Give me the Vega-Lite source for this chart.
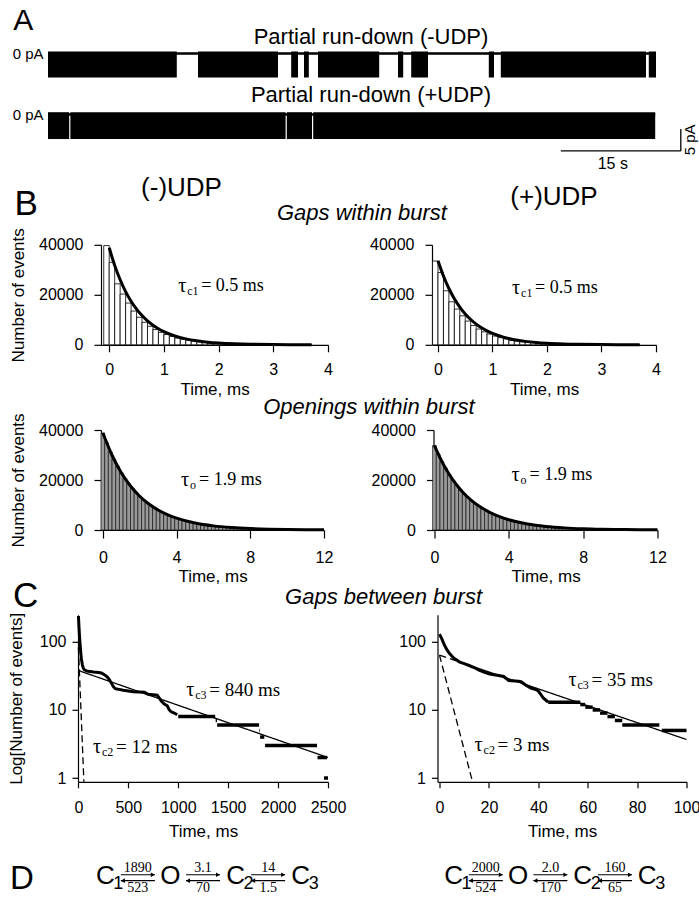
{
"$schema":"https://vega.github.io/schema/vega-lite/v6.json",
"background":"white",
"padding":{"left":7,"top":5.5,"right":0,"bottom":0},
"config":{
 "font":"Liberation Sans",
 "view":{"stroke":null},
 "axis":{"grid":false,"domainColor":"black","domainWidth":1.2,"tickColor":"black","tickWidth":1.2,"tickSize":7,"labelColor":"black","labelFont":"Liberation Sans","labelFontSize":16,"titleColor":"black","titleFont":"Liberation Sans","titleFontSize":17,"titleFontWeight":"normal","labelPadding":6,"titlePadding":6,"labelOverlap":false,"labelFlush":false},
 "title":{"color":"black","fontWeight":"normal","font":"Liberation Sans"},
 "text":{"color":"black"},
 "rule":{"color":"black"},
 "line":{"color":"black"}
},
"datasets":{
 "traceMinus":[{"t0":0,"t1":16.1},{"t0":18.75,"t1":28.75},{"t0":30.4,"t1":31.25},{"t0":32.0,"t1":32.6},{"t0":33.75,"t1":41.4},{"t0":43.75,"t1":44.4},{"t0":45.4,"t1":47.5},{"t0":55.1,"t1":55.75},{"t0":56.6,"t1":74.75},{"t0":75.1,"t1":76.0}],
 "tracePlus":[{"t0":0,"t1":2.65},{"t0":2.8,"t1":29.7},{"t0":29.85,"t1":33.0},{"t0":33.15,"t1":75.9}],
 "gapsHist":[
  {"t0":-0.1,"t1":0,"minus":39700,"plus":33500},{"t0":0,"t1":0.1,"minus":33000,"plus":28900},{"t0":0.1,"t1":0.2,"minus":24400,"plus":21600},{"t0":0.2,"t1":0.3,"minus":20300,"plus":17200},{"t0":0.3,"t1":0.4,"minus":16700,"plus":14300},{"t0":0.4,"t1":0.5,"minus":13500,"plus":11600},{"t0":0.5,"t1":0.6,"minus":11000,"plus":9500},{"t0":0.6,"t1":0.7,"minus":9000,"plus":7700},{"t0":0.7,"t1":0.8,"minus":7400,"plus":6300},{"t0":0.8,"t1":0.9,"minus":6100,"plus":5200},{"t0":0.9,"t1":1.0,"minus":5000,"plus":4300},{"t0":1.0,"t1":1.1,"minus":4100,"plus":3500},{"t0":1.1,"t1":1.2,"minus":3350,"plus":2850},{"t0":1.2,"t1":1.3,"minus":2750,"plus":2350},{"t0":1.3,"t1":1.4,"minus":2250,"plus":1900},{"t0":1.4,"t1":1.5,"minus":1850,"plus":1560},{"t0":1.5,"t1":1.6,"minus":1500,"plus":1280},{"t0":1.6,"t1":1.7,"minus":1230,"plus":1050},{"t0":1.7,"t1":1.8,"minus":1000,"plus":860},{"t0":1.8,"t1":1.9,"minus":820,"plus":700},{"t0":1.9,"t1":2.0,"minus":670,"plus":570},{"t0":2.0,"t1":2.1,"minus":550,"plus":470},{"t0":2.1,"t1":2.2,"minus":450,"plus":385},{"t0":2.2,"t1":2.3,"minus":370,"plus":315},{"t0":2.3,"t1":2.4,"minus":300,"plus":260},{"t0":2.4,"t1":2.5,"minus":250,"plus":210},{"t0":2.5,"t1":2.6,"minus":200,"plus":170},{"t0":2.6,"t1":2.7,"minus":165,"plus":140},{"t0":2.7,"t1":2.8,"minus":135,"plus":115},{"t0":2.8,"t1":2.9,"minus":110,"plus":95},{"t0":2.9,"t1":3.0,"minus":90,"plus":78},{"t0":3.0,"t1":3.1,"minus":75,"plus":64},{"t0":3.1,"t1":3.2,"minus":60,"plus":52},{"t0":3.2,"t1":3.3,"minus":50,"plus":43},{"t0":3.3,"t1":3.4,"minus":40,"plus":35},{"t0":3.4,"t1":3.5,"minus":33,"plus":29},{"t0":3.5,"t1":3.6,"minus":27,"plus":24},{"t0":3.6,"t1":3.7,"minus":22,"plus":20}],
 "gapsFit":[{"t":0,"minus":38800,"plus":33600},{"t":0.1,"minus":31770,"plus":27500},{"t":0.2,"minus":26010,"plus":22520},{"t":0.3,"minus":21290,"plus":18440},{"t":0.4,"minus":17440,"plus":15100},{"t":0.5,"minus":14270,"plus":12360},{"t":0.6,"minus":11690,"plus":10120},{"t":0.7,"minus":9570,"plus":8290},{"t":0.8,"minus":7840,"plus":6790},{"t":0.9,"minus":6410,"plus":5560},{"t":1.0,"minus":5250,"plus":4550},{"t":1.2,"minus":3520,"plus":3050},{"t":1.4,"minus":2360,"plus":2040},{"t":1.6,"minus":1580,"plus":1370},{"t":1.8,"minus":1060,"plus":920},{"t":2.0,"minus":710,"plus":615},{"t":2.3,"minus":390,"plus":337},{"t":2.6,"minus":215,"plus":185},{"t":3.0,"minus":96,"plus":83},{"t":3.3,"minus":53,"plus":46},{"t":3.7,"minus":23,"plus":20}],
 "openHist":[
  {"t0":-0.1,"t1":0.1,"minus":38800,"plus":33800},{"t0":0.1,"t1":0.3,"minus":34900,"plus":30400},{"t0":0.3,"t1":0.5,"minus":31400,"plus":27350},{"t0":0.5,"t1":0.7,"minus":28300,"plus":24650},{"t0":0.7,"t1":0.9,"minus":25400,"plus":22100},{"t0":0.9,"t1":1.1,"minus":22900,"plus":19950},{"t0":1.1,"t1":1.3,"minus":20600,"plus":17950},{"t0":1.3,"t1":1.5,"minus":18500,"plus":16100},{"t0":1.5,"t1":1.7,"minus":16700,"plus":14550},{"t0":1.7,"t1":1.9,"minus":15000,"plus":13050},
  {"t0":1.9,"t1":2.1,"minus":13500,"plus":11750},{"t0":2.1,"t1":2.3,"minus":12200,"plus":10600},{"t0":2.3,"t1":2.5,"minus":10900,"plus":9500},{"t0":2.5,"t1":2.7,"minus":9840,"plus":8570},{"t0":2.7,"t1":2.9,"minus":8860,"plus":7720},{"t0":2.9,"t1":3.1,"minus":7970,"plus":6940},{"t0":3.1,"t1":3.3,"minus":7170,"plus":6250},{"t0":3.3,"t1":3.5,"minus":6450,"plus":5620},{"t0":3.5,"t1":3.7,"minus":5810,"plus":5060},{"t0":3.7,"t1":3.9,"minus":5230,"plus":4560},
  {"t0":3.9,"t1":4.1,"minus":4700,"plus":4090},{"t0":4.1,"t1":4.3,"minus":4230,"plus":3680},{"t0":4.3,"t1":4.5,"minus":3810,"plus":3320},{"t0":4.5,"t1":4.7,"minus":3430,"plus":2990},{"t0":4.7,"t1":4.9,"minus":3080,"plus":2680},{"t0":4.9,"t1":5.1,"minus":2780,"plus":2420},{"t0":5.1,"t1":5.3,"minus":2500,"plus":2180},{"t0":5.3,"t1":5.5,"minus":2250,"plus":1960},{"t0":5.5,"t1":5.7,"minus":2020,"plus":1760},{"t0":5.7,"t1":5.9,"minus":1820,"plus":1590},
  {"t0":5.9,"t1":6.1,"minus":1640,"plus":1430},{"t0":6.1,"t1":6.3,"minus":1470,"plus":1280},{"t0":6.3,"t1":6.5,"minus":1330,"plus":1160},{"t0":6.5,"t1":6.7,"minus":1190,"plus":1040},{"t0":6.7,"t1":6.9,"minus":1070,"plus":930},{"t0":6.9,"t1":7.1,"minus":965,"plus":840},{"t0":7.1,"t1":7.3,"minus":870,"plus":760},{"t0":7.3,"t1":7.5,"minus":780,"plus":680},{"t0":7.5,"t1":7.7,"minus":700,"plus":610},{"t0":7.7,"t1":7.9,"minus":630,"plus":550},
  {"t0":7.9,"t1":8.1,"minus":570,"plus":500},{"t0":8.1,"t1":8.3,"minus":515,"plus":450},{"t0":8.3,"t1":8.5,"minus":460,"plus":400},{"t0":8.5,"t1":8.7,"minus":415,"plus":360},{"t0":8.7,"t1":8.9,"minus":375,"plus":327},{"t0":8.9,"t1":9.1,"minus":335,"plus":292},{"t0":9.1,"t1":9.3,"minus":300,"plus":261},{"t0":9.3,"t1":9.5,"minus":272,"plus":237},{"t0":9.5,"t1":9.7,"minus":245,"plus":213},{"t0":9.7,"t1":9.9,"minus":220,"plus":192},
  {"t0":9.9,"t1":10.1,"minus":198,"plus":172},{"t0":10.1,"t1":10.3,"minus":178,"plus":155},{"t0":10.3,"t1":10.5,"minus":160,"plus":139},{"t0":10.5,"t1":10.7,"minus":144,"plus":125},{"t0":10.7,"t1":10.9,"minus":130,"plus":113},{"t0":10.9,"t1":11.1,"minus":117,"plus":102},{"t0":11.1,"t1":11.3,"minus":105,"plus":91},{"t0":11.3,"t1":11.5,"minus":95,"plus":83},{"t0":11.5,"t1":11.7,"minus":85,"plus":74},{"t0":11.7,"t1":11.9,"minus":77,"plus":67}],
 "openFit":[{"t":0,"minus":38800,"plus":33800},{"t":0.5,"minus":29900,"plus":26000},{"t":1,"minus":22900,"plus":19950},{"t":1.5,"minus":17600,"plus":15330},{"t":2,"minus":13500,"plus":11760},{"t":2.5,"minus":10400,"plus":9060},{"t":3,"minus":8000,"plus":6970},{"t":3.5,"minus":6140,"plus":5350},{"t":4,"minus":4730,"plus":4120},{"t":5,"minus":2790,"plus":2430},{"t":6,"minus":1650,"plus":1440},{"t":7,"minus":975,"plus":850},{"t":8,"minus":575,"plus":500},{"t":9,"minus":340,"plus":296},{"t":10,"minus":200,"plus":174},{"t":11,"minus":120,"plus":104},{"t":12,"minus":70,"plus":61}],
 "betweenMinus":[{"t":0,"n":240},{"t":3,"n":200},{"t":6,"n":165},{"t":10,"n":130},{"t":15,"n":100},{"t":20,"n":80},{"t":25,"n":66},{"t":30,"n":56},{"t":40,"n":46},{"t":50,"n":41},{"t":60,"n":39},{"t":80,"n":37.5},{"t":100,"n":37},{"t":150,"n":36},{"t":200,"n":35.5},{"t":230,"n":35},{"t":260,"n":33},{"t":290,"n":30.5},{"t":310,"n":28},{"t":330,"n":25},{"t":350,"n":22},{"t":370,"n":20.5},{"t":450,"n":19.5},{"t":550,"n":18.5},{"t":660,"n":18.2},{"t":700,"n":17},{"t":790,"n":16.5},{"t":810,"n":15},{"t":830,"n":13.5},{"t":860,"n":12.2},{"t":890,"n":11.5},{"t":910,"n":10},{"t":930,"n":9.4},{"t":960,"n":9},{"t":990,"n":8.5}],
 "betweenMinusSteps":[{"t0":1000,"t1":1370,"n":8},{"t0":1375,"t1":1388,"n":7},{"t0":1390,"t1":1810,"n":6},{"t0":1812,"t1":1818,"n":5},{"t0":1820,"t1":1862,"n":4},{"t0":1870,"t1":2390,"n":3},{"t0":2395,"t1":2490,"n":2},{"t0":2460,"t1":2500,"n":1}],
 "betweenMinusFit":[{"comp":"slow","t":0,"n":38},{"comp":"slow","t":2500,"n":2.0},{"comp":"fast","t":0,"n":83},{"comp":"fast","t":55,"n":0.88}],
 "betweenPlus":[{"t":0,"n":130},{"t":1,"n":110},{"t":2,"n":90},{"t":3,"n":77},{"t":4,"n":68},{"t":5,"n":62},{"t":6,"n":57},{"t":7,"n":54},{"t":8,"n":51},{"t":10,"n":48},{"t":12,"n":45},{"t":14,"n":42},{"t":16,"n":38.5},{"t":18,"n":36},{"t":20,"n":34},{"t":22,"n":33},{"t":24,"n":32},{"t":26,"n":31},{"t":27,"n":29},{"t":28,"n":27},{"t":32,"n":26.5},{"t":33,"n":26},{"t":35,"n":23},{"t":37,"n":21},{"t":39,"n":20},{"t":40,"n":19},{"t":41,"n":17},{"t":42,"n":15},{"t":43,"n":14},{"t":44,"n":13}],
 "betweenPlusSteps":[{"t0":44,"t1":57,"n":13},{"t0":57,"t1":59,"n":12},{"t0":59,"t1":62,"n":11},{"t0":62,"t1":65,"n":10},{"t0":65,"t1":68,"n":9},{"t0":68,"t1":71,"n":8},{"t0":71,"t1":74,"n":7},{"t0":74,"t1":89,"n":6},{"t0":90,"t1":100,"n":5}],
 "betweenPlusFit":[{"comp":"slow","t":9,"n":49.5},{"comp":"slow","t":100,"n":3.68},{"comp":"slow-extrapolated","t":0,"n":64},{"comp":"slow-extrapolated","t":9,"n":49.5},{"comp":"fast","t":0,"n":64},{"comp":"fast","t":13.3,"n":0.9}]
},
"columns":1,
"align":"none",
"spacing":1.3,
"concat":[
 {
  "title":{"text":"A","anchor":"start","frame":"bounds","fontSize":30,"dx":1,"offset":-10},
  "spacing":2.5,
  "vconcat":[
   {
    "title":{"text":"Partial run-down (-UDP)","frame":"group","anchor":"middle","fontSize":22,"dx":-8.5,"offset":-2},
    "width":557,"height":34,
    "layer":[
     {"data":{"values":[{"t0":0,"t1":76}]},"mark":{"type":"rule","strokeWidth":2.5},"encoding":{"x":{"field":"t0","type":"quantitative","scale":{"domain":[0,76.25],"range":[-53,557],"nice":false},"axis":null},"x2":{"field":"t1"},"y":{"datum":0,"type":"quantitative","scale":{"domain":[-7,1.5],"nice":false},"axis":{"values":[0],"labelExpr":"'0 pA'","domain":false,"ticks":false,"tickSize":0,"offset":49,"labelPadding":9,"labelFontSize":15,"title":null}}}},
     {"data":{"name":"traceMinus"},"mark":{"type":"rect","color":"black"},"encoding":{"x":{"field":"t0","type":"quantitative"},"x2":{"field":"t1"},"y":{"datum":0.5},"y2":{"datum":-6}}}
    ]
   },
   {
    "title":{"text":"Partial run-down (+UDP)","frame":"group","anchor":"middle","fontSize":22,"dx":-8.5,"offset":0},
    "width":557,"height":44,
    "layer":[
     {"data":{"values":[{"t0":0,"t1":75.9}]},"mark":{"type":"rule","strokeWidth":2.5},"encoding":{"x":{"field":"t0","type":"quantitative","scale":{"domain":[0,76.25],"range":[-53,557],"nice":false},"axis":null},"x2":{"field":"t1"},"y":{"datum":0,"type":"quantitative","scale":{"domain":[-9,1],"nice":false},"axis":{"values":[0],"labelExpr":"'0 pA'","domain":false,"ticks":false,"tickSize":0,"offset":49,"labelPadding":9,"labelFontSize":15,"title":null}}}},
     {"data":{"name":"tracePlus"},"mark":{"type":"rect","color":"black"},"encoding":{"x":{"field":"t0","type":"quantitative"},"x2":{"field":"t1"},"y":{"datum":0.5},"y2":{"datum":-5.6}}},
     {"data":{"values":[{"t0":64.1,"t1":79.1,"c0":-8.3,"c1":-8.3},{"t0":79.1,"t1":79.1,"c0":-3.3,"c1":-8.3}]},"mark":{"type":"rule","strokeWidth":1.3},"encoding":{"x":{"field":"t0","type":"quantitative"},"x2":{"field":"t1"},"y":{"field":"c0","type":"quantitative"},"y2":{"field":"c1"}}},
     {"data":{"values":[{"label":"15 s"}]},"mark":{"type":"text","fontSize":16,"baseline":"middle"},"encoding":{"x":{"datum":70.6},"y":{"datum":-11.3},"text":{"field":"label"}}},
     {"data":{"values":[{"label":"5 pA"}]},"mark":{"type":"text","fontSize":15,"baseline":"middle","angle":270},"encoding":{"x":{"datum":80.3},"y":{"datum":-5.8},"text":{"field":"label"}}}
    ]
   }
  ]
 },
 {
  "columns":1,
  "align":"none",
  "spacing":17.5,
  "concat":[
   {
    "columns":1,
    "align":"none",
    "spacing":-6,
    "concat":[
     {
      "title":{"text":"B","anchor":"start","frame":"bounds","fontSize":35,"dx":5,"offset":-47},
      "spacing":-2.8,
      "vconcat":[
       {
        "title":{"text":"Gaps within burst","anchor":"middle","frame":"bounds","fontStyle":"italic","fontSize":22,"dx":27,"offset":-50},
        "spacing":36,
        "hconcat":[
         {
          "title":{"text":"(-)UDP","frame":"group","anchor":"middle","fontSize":26,"dx":-33,"offset":27},
          "width":227,"height":100,
          "layer":[
           {"data":{"name":"gapsHist"},"mark":{"type":"rect","fill":"white","stroke":"black","strokeWidth":0.8},"encoding":{"x":{"field":"t0","type":"quantitative","scale":{"domain":[-0.15,4],"nice":false},"axis":{"values":[0,1,2,3,4],"format":"d","title":"Time, ms","labelPadding":9.5,"titlePadding":4.5,"labelOverlap":false}},"x2":{"field":"t1"},"y":{"field":"minus","type":"quantitative","scale":{"domain":[0,40000],"nice":false},"axis":{"values":[0,10000,20000,30000,40000],"format":"d","title":"Number of events","titlePadding":11,"labelPadding":11,"labelOverlap":false}},"y2":{"datum":0}}},
           {"data":{"name":"gapsFit"},"mark":{"type":"line","strokeWidth":3,"interpolate":"monotone"},"encoding":{"x":{"field":"t","type":"quantitative"},"y":{"field":"minus","type":"quantitative"}}},
           {"data":{"values":[{"sym":"τ","sub":"c1","val":"= 0.5 ms"}]},"encoding":{"x":{"datum":1.26},"y":{"datum":23600}},"layer":[
             {"mark":{"type":"text","font":"Liberation Serif","fontSize":20,"align":"left","baseline":"middle"},"encoding":{"text":{"field":"sym"}}},
             {"mark":{"type":"text","font":"Liberation Serif","fontSize":12,"align":"left","baseline":"middle","dx":9,"dy":5},"encoding":{"text":{"field":"sub"}}},
             {"mark":{"type":"text","font":"Liberation Serif","fontSize":18,"align":"left","baseline":"middle","dx":23},"encoding":{"text":{"field":"val"}}}]}
          ]
         },
         {
          "title":{"text":"(+)UDP","frame":"group","anchor":"middle","fontSize":26,"dx":10,"offset":27},
          "width":224,"height":100,
          "layer":[
           {"data":{"name":"gapsHist"},"mark":{"type":"rect","fill":"white","stroke":"black","strokeWidth":0.8},"encoding":{"x":{"field":"t0","type":"quantitative","scale":{"domain":[-0.11,4],"nice":false},"axis":{"values":[0,1,2,3,4],"format":"d","title":"Time, ms","labelPadding":9.5,"titlePadding":4.5,"labelOverlap":false}},"x2":{"field":"t1"},"y":{"field":"plus","type":"quantitative","scale":{"domain":[0,40000],"nice":false},"axis":{"values":[0,10000,20000,30000,40000],"format":"d","title":null,"labelPadding":11,"labelOverlap":false}},"y2":{"datum":0}}},
           {"data":{"name":"gapsFit"},"mark":{"type":"line","strokeWidth":3,"interpolate":"monotone"},"encoding":{"x":{"field":"t","type":"quantitative"},"y":{"field":"plus","type":"quantitative"}}},
           {"data":{"values":[{"sym":"τ","sub":"c1","val":"= 0.5 ms"}]},"encoding":{"x":{"datum":1.36},"y":{"datum":22800}},"layer":[
             {"mark":{"type":"text","font":"Liberation Serif","fontSize":20,"align":"left","baseline":"middle"},"encoding":{"text":{"field":"sym"}}},
             {"mark":{"type":"text","font":"Liberation Serif","fontSize":12,"align":"left","baseline":"middle","dx":9,"dy":5},"encoding":{"text":{"field":"sub"}}},
             {"mark":{"type":"text","font":"Liberation Serif","fontSize":18,"align":"left","baseline":"middle","dx":23},"encoding":{"text":{"field":"val"}}}]}
          ]
         }
        ]
       },
       {
        "title":{"text":"Openings within burst","anchor":"middle","frame":"bounds","fontStyle":"italic","fontSize":22,"dx":31,"offset":-6},
        "spacing":37.5,
        "hconcat":[
         {
          "width":223,"height":100,
          "layer":[
           {"data":{"name":"openHist"},"mark":{"type":"rect","fill":"#9a9a9a","stroke":"black","strokeWidth":0.6},"encoding":{"x":{"field":"t0","type":"quantitative","scale":{"domain":[-0.1,12],"nice":false},"axis":{"values":[0,2,4,6,8,10,12],"format":"d","title":"Time, ms","tickSize":8,"labelPadding":11.5,"titlePadding":2.5,"labelOverlap":false}},"x2":{"field":"t1"},"y":{"field":"minus","type":"quantitative","scale":{"domain":[0,40000],"nice":false},"axis":{"values":[0,10000,20000,30000,40000],"format":"d","title":"Number of events","titlePadding":11,"labelPadding":11,"labelOverlap":false}},"y2":{"datum":0}}},
           {"data":{"name":"openFit"},"mark":{"type":"line","strokeWidth":3,"interpolate":"monotone"},"encoding":{"x":{"field":"t","type":"quantitative"},"y":{"field":"minus","type":"quantitative"}}},
           {"data":{"values":[{"sym":"τ","sub":"o","val":"= 1.9 ms"}]},"encoding":{"x":{"datum":4.24},"y":{"datum":20000}},"layer":[
             {"mark":{"type":"text","font":"Liberation Serif","fontSize":20,"align":"left","baseline":"middle"},"encoding":{"text":{"field":"sym"}}},
             {"mark":{"type":"text","font":"Liberation Serif","fontSize":12,"align":"left","baseline":"middle","dx":9,"dy":5},"encoding":{"text":{"field":"sub"}}},
             {"mark":{"type":"text","font":"Liberation Serif","fontSize":18,"align":"left","baseline":"middle","dx":18},"encoding":{"text":{"field":"val"}}}]}
          ]
         },
         {
          "width":224,"height":100,
          "layer":[
           {"data":{"name":"openHist"},"mark":{"type":"rect","fill":"#9a9a9a","stroke":"black","strokeWidth":0.6},"encoding":{"x":{"field":"t0","type":"quantitative","scale":{"domain":[-0.05,12],"nice":false},"axis":{"values":[0,2,4,6,8,10,12],"format":"d","title":"Time, ms","tickSize":8,"labelPadding":11.5,"titlePadding":2.5,"labelOverlap":false}},"x2":{"field":"t1"},"y":{"field":"plus","type":"quantitative","scale":{"domain":[0,40000],"nice":false},"axis":{"values":[0,10000,20000,30000,40000],"format":"d","title":null,"labelPadding":11,"labelOverlap":false}},"y2":{"datum":0}}},
           {"data":{"name":"openFit"},"mark":{"type":"line","strokeWidth":3,"interpolate":"monotone"},"encoding":{"x":{"field":"t","type":"quantitative"},"y":{"field":"plus","type":"quantitative"}}},
           {"data":{"values":[{"sym":"τ","sub":"o","val":"= 1.9 ms"}]},"encoding":{"x":{"datum":4.15},"y":{"datum":22000}},"layer":[
             {"mark":{"type":"text","font":"Liberation Serif","fontSize":20,"align":"left","baseline":"middle"},"encoding":{"text":{"field":"sym"}}},
             {"mark":{"type":"text","font":"Liberation Serif","fontSize":12,"align":"left","baseline":"middle","dx":9,"dy":5},"encoding":{"text":{"field":"sub"}}},
             {"mark":{"type":"text","font":"Liberation Serif","fontSize":18,"align":"left","baseline":"middle","dx":18},"encoding":{"text":{"field":"val"}}}]}
          ]
         }
        ]
       }
      ]
     },
     {
      "title":{"text":"Gaps between burst","anchor":"middle","frame":"bounds","fontStyle":"italic","fontSize":22,"dx":30,"offset":-30},
      "spacing":47.5,
      "hconcat":[
       {
        "title":{"text":"C","anchor":"start","frame":"group","fontSize":35,"dx":-88,"offset":-4},
        "width":227,"height":167,
        "layer":[
         {"data":{"name":"betweenMinusFit"},"mark":{"type":"line","strokeWidth":1.3},"encoding":{"x":{"field":"t","type":"quantitative","scale":{"domain":[-4,2500],"range":[-23,227],"nice":false},"axis":{"values":[0,500,1000,1500,2000,2500],"format":"d","title":"Time, ms","tickSize":6,"labelPadding":11.5,"titlePadding":8.5,"labelOverlap":false}},"y":{"field":"n","type":"quantitative","scale":{"type":"log","domain":[0.88,250],"nice":false},"axis":{"values":[1,10,100],"format":"d","title":"Log[Number of events]","offset":23,"tickSize":6,"labelPadding":6,"titlePadding":14,"labelOverlap":false}},"strokeDash":{"field":"comp","type":"nominal","scale":{"domain":["slow","fast","slow-extrapolated"],"range":[[1,0],[7,4],[7,4]]},"legend":null}}},
         {"data":{"name":"betweenMinus"},"mark":{"type":"line","strokeWidth":3},"encoding":{"x":{"field":"t","type":"quantitative"},"y":{"field":"n","type":"quantitative"}}},
         {"data":{"name":"betweenMinusSteps"},"mark":{"type":"rule","strokeWidth":3.5},"encoding":{"x":{"field":"t0","type":"quantitative"},"x2":{"field":"t1"},"y":{"field":"n","type":"quantitative"}}},
         {"data":{"values":[{"sym":"τ","sub":"c3","val":"= 840 ms"}]},"encoding":{"x":{"datum":1080},"y":{"datum":19.8}},"layer":[
           {"mark":{"type":"text","font":"Liberation Serif","fontSize":20,"align":"left","baseline":"middle"},"encoding":{"text":{"field":"sym"}}},
           {"mark":{"type":"text","font":"Liberation Serif","fontSize":12,"align":"left","baseline":"middle","dx":9,"dy":5},"encoding":{"text":{"field":"sub"}}},
           {"mark":{"type":"text","font":"Liberation Serif","fontSize":19,"align":"left","baseline":"middle","dx":23},"encoding":{"text":{"field":"val"}}}]},
         {"data":{"values":[{"sym":"τ","sub":"c2","val":"= 12 ms"}]},"encoding":{"x":{"datum":146},"y":{"datum":2.87}},"layer":[
           {"mark":{"type":"text","font":"Liberation Serif","fontSize":20,"align":"left","baseline":"middle"},"encoding":{"text":{"field":"sym"}}},
           {"mark":{"type":"text","font":"Liberation Serif","fontSize":12,"align":"left","baseline":"middle","dx":9,"dy":5},"encoding":{"text":{"field":"sub"}}},
           {"mark":{"type":"text","font":"Liberation Serif","fontSize":19,"align":"left","baseline":"middle","dx":23},"encoding":{"text":{"field":"val"}}}]}
        ]
       },
       {
        "width":249,"height":167,
        "layer":[
         {"data":{"name":"betweenPlusFit"},"mark":{"type":"line","strokeWidth":1.3},"encoding":{"x":{"field":"t","type":"quantitative","scale":{"domain":[-0.8,100],"nice":false},"axis":{"values":[0,20,40,60,80,100],"format":"d","title":"Time, ms","tickSize":6,"labelPadding":11.5,"titlePadding":8.5,"labelOverlap":false}},"y":{"field":"n","type":"quantitative","scale":{"type":"log","domain":[0.88,250],"nice":false},"axis":{"values":[1,10,100],"format":"d","title":null,"tickSize":6,"labelPadding":6,"labelOverlap":false}},"strokeDash":{"field":"comp","type":"nominal","scale":{"domain":["slow","fast","slow-extrapolated"],"range":[[1,0],[7,4],[7,4]]},"legend":null}}},
         {"data":{"name":"betweenPlus"},"mark":{"type":"line","strokeWidth":3},"encoding":{"x":{"field":"t","type":"quantitative"},"y":{"field":"n","type":"quantitative"}}},
         {"data":{"name":"betweenPlusSteps"},"mark":{"type":"rule","strokeWidth":3.5},"encoding":{"x":{"field":"t0","type":"quantitative"},"x2":{"field":"t1"},"y":{"field":"n","type":"quantitative"}}},
         {"data":{"values":[{"sym":"τ","sub":"c3","val":"= 35 ms"}]},"encoding":{"x":{"datum":52.2},"y":{"datum":27.7}},"layer":[
           {"mark":{"type":"text","font":"Liberation Serif","fontSize":20,"align":"left","baseline":"middle"},"encoding":{"text":{"field":"sym"}}},
           {"mark":{"type":"text","font":"Liberation Serif","fontSize":12,"align":"left","baseline":"middle","dx":9,"dy":5},"encoding":{"text":{"field":"sub"}}},
           {"mark":{"type":"text","font":"Liberation Serif","fontSize":19,"align":"left","baseline":"middle","dx":23},"encoding":{"text":{"field":"val"}}}]},
         {"data":{"values":[{"sym":"τ","sub":"c2","val":"= 3 ms"}]},"encoding":{"x":{"datum":14.2},"y":{"datum":3.07}},"layer":[
           {"mark":{"type":"text","font":"Liberation Serif","fontSize":20,"align":"left","baseline":"middle"},"encoding":{"text":{"field":"sym"}}},
           {"mark":{"type":"text","font":"Liberation Serif","fontSize":12,"align":"left","baseline":"middle","dx":9,"dy":5},"encoding":{"text":{"field":"sub"}}},
           {"mark":{"type":"text","font":"Liberation Serif","fontSize":19,"align":"left","baseline":"middle","dx":23},"encoding":{"text":{"field":"val"}}}]}
        ]
       }
      ]
     }
    ]
   },
   {
    "spacing":118.4,
    "hconcat":[
     {
      "title":{"text":"D","anchor":"start","frame":"group","fontSize":33,"dx":-91,"offset":-39},
      "width":216,"height":36,
      "layer":[
       {"data":{"values":[{"pos":0,"name":"C","sub":"1"},{"pos":2,"name":"O","sub":""},{"pos":4,"name":"C","sub":"2"},{"pos":6,"name":"C","sub":"3"}]},"layer":[
         {"mark":{"type":"text","font":"Liberation Sans Narrow, Liberation Sans","fontSize":26,"baseline":"middle"},"encoding":{"x":{"field":"pos","type":"quantitative","scale":{"domain":[-0.5,6.5],"range":[-12,216],"nice":false},"axis":null},"y":{"datum":-0.06,"type":"quantitative","scale":{"domain":[-1,1],"nice":false},"axis":null},"text":{"field":"name"}}},
         {"mark":{"type":"text","font":"Liberation Sans Narrow, Liberation Sans","fontSize":18,"baseline":"middle","align":"left","dx":8},"encoding":{"x":{"field":"pos","type":"quantitative"},"y":{"datum":-0.5},"text":{"field":"sub"}}}]},
       {"data":{"values":[{"pos":1,"fwd":"1890","bwd":"523"},{"pos":3,"fwd":"3.1","bwd":"70"},{"pos":5,"fwd":"14","bwd":"1.5"}]},"layer":[
         {"mark":{"type":"text","font":"Liberation Serif","fontSize":14,"baseline":"middle"},"encoding":{"x":{"field":"pos","type":"quantitative"},"y":{"datum":0.42},"text":{"field":"fwd"}}},
         {"mark":{"type":"text","font":"Liberation Serif","fontSize":14,"baseline":"middle"},"encoding":{"x":{"field":"pos","type":"quantitative"},"y":{"datum":-0.72},"text":{"field":"bwd"}}},
         {"mark":{"type":"rule","strokeWidth":1.2,"xOffset":-17,"x2Offset":17},"encoding":{"x":{"field":"pos","type":"quantitative"},"x2":{"field":"pos"},"y":{"datum":0.03}}},
         {"mark":{"type":"rule","strokeWidth":1.2,"xOffset":-17,"x2Offset":17},"encoding":{"x":{"field":"pos","type":"quantitative"},"x2":{"field":"pos"},"y":{"datum":-0.3}}},
         {"mark":{"type":"point","shape":"triangle-right","filled":true,"size":22,"color":"black","opacity":1,"xOffset":15},"encoding":{"x":{"field":"pos","type":"quantitative"},"y":{"datum":0.03}}},
         {"mark":{"type":"point","shape":"triangle-left","filled":true,"size":22,"color":"black","opacity":1,"xOffset":-15},"encoding":{"x":{"field":"pos","type":"quantitative"},"y":{"datum":-0.3}}}]}
      ]
     },
     {
      "width":226,"height":36,
      "layer":[
       {"data":{"values":[{"pos":0,"name":"C","sub":"1"},{"pos":2,"name":"O","sub":""},{"pos":4,"name":"C","sub":"2"},{"pos":6,"name":"C","sub":"3"}]},"layer":[
         {"mark":{"type":"text","font":"Liberation Sans Narrow, Liberation Sans","fontSize":26,"baseline":"middle"},"encoding":{"x":{"field":"pos","type":"quantitative","scale":{"domain":[-0.5,6.5],"nice":false},"axis":null},"y":{"datum":-0.06,"type":"quantitative","scale":{"domain":[-1,1],"nice":false},"axis":null},"text":{"field":"name"}}},
         {"mark":{"type":"text","font":"Liberation Sans Narrow, Liberation Sans","fontSize":18,"baseline":"middle","align":"left","dx":8},"encoding":{"x":{"field":"pos","type":"quantitative"},"y":{"datum":-0.5},"text":{"field":"sub"}}}]},
       {"data":{"values":[{"pos":1,"fwd":"2000","bwd":"524"},{"pos":3,"fwd":"2.0","bwd":"170"},{"pos":5,"fwd":"160","bwd":"65"}]},"layer":[
         {"mark":{"type":"text","font":"Liberation Serif","fontSize":14,"baseline":"middle"},"encoding":{"x":{"field":"pos","type":"quantitative"},"y":{"datum":0.42},"text":{"field":"fwd"}}},
         {"mark":{"type":"text","font":"Liberation Serif","fontSize":14,"baseline":"middle"},"encoding":{"x":{"field":"pos","type":"quantitative"},"y":{"datum":-0.72},"text":{"field":"bwd"}}},
         {"mark":{"type":"rule","strokeWidth":1.2,"xOffset":-17,"x2Offset":17},"encoding":{"x":{"field":"pos","type":"quantitative"},"x2":{"field":"pos"},"y":{"datum":0.03}}},
         {"mark":{"type":"rule","strokeWidth":1.2,"xOffset":-17,"x2Offset":17},"encoding":{"x":{"field":"pos","type":"quantitative"},"x2":{"field":"pos"},"y":{"datum":-0.3}}},
         {"mark":{"type":"point","shape":"triangle-right","filled":true,"size":22,"color":"black","opacity":1,"xOffset":15},"encoding":{"x":{"field":"pos","type":"quantitative"},"y":{"datum":0.03}}},
         {"mark":{"type":"point","shape":"triangle-left","filled":true,"size":22,"color":"black","opacity":1,"xOffset":-15},"encoding":{"x":{"field":"pos","type":"quantitative"},"y":{"datum":-0.3}}}]}
      ]
     }
    ]
   }
  ]
 }
]
}
